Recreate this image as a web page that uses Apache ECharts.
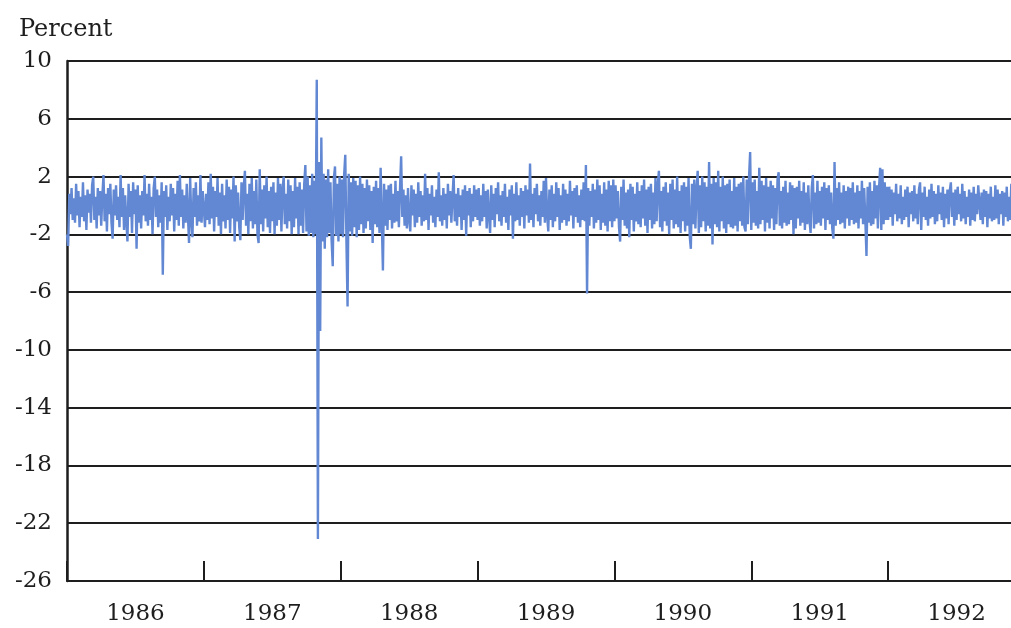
<!DOCTYPE html>
<html>
<head>
<meta charset="utf-8">
<script src="https://cdn.jsdelivr.net/npm/echarts@6/dist/echarts.min.js"></script>
<style>
  html, body { margin: 0; padding: 0; background: #ffffff; overflow: hidden; }
  /* the plot runs past the right edge of the window, as in the scan */
  #chart { width: 1025px; height: 628px; }
</style>
</head>
<body>
<div id="chart"></div>
<script>
  // year labels on the x axis
  var years = ['1986', '1987', '1988', '1989', '1990', '1991', '1992']

  // daily percent changes, one list per year
  var r1986 = [-2.0, -2.8, 0.8, -0.6, 1.2, -1.0, 0.5, -1.2, 1.5, -0.7,
    1.0, -1.5, 0.6, -0.8, 1.6, -1.1, 0.7, -1.7, 1.1, -0.5,
    0.8, -1.2, 1.4, 2.0, -1.0, 0.6, -1.6, 1.2, -0.7, 1.0,
    -1.4, 0.7, 2.1, -1.1, 0.8, -1.8, 1.2, -0.6, 1.5, -1.2,
    -2.3, 1.1, -0.7, 1.4, -1.0, 0.6, -1.5, 2.1, -0.8, 1.2,
    -1.7, 0.7, -1.1, -2.5, 1.5, -0.8, 1.0, -1.9, 1.6, -0.6,
    1.1, -3.0, 1.4, -1.2, 0.7, -1.6, 1.0, -0.7, 2.1, -1.1,
    0.8, -1.4, 1.5, -1.0, 0.6, -2.0, 1.2, 2.0, -0.8, 1.1,
    -1.5, 0.7, -1.2, 1.6, -4.8, 1.0, -0.8, 1.4, -1.7, 0.6,
    -1.1, 1.5, -0.7, 1.2, -1.8, 0.8, -1.0, 1.7, -1.4, 2.1,
    -0.8, 1.1, -1.6, 0.7, -1.2, 1.5, -0.6, -2.6, 1.9, -1.0,
    -2.2, 1.2, -0.8, 1.6, -1.4, 0.7, -1.1, 2.1, -1.2, 1.0]
  var r1987 = [1.1, -1.5, 0.8, -1.0, 1.6, -1.3, 2.2, -0.9, 1.3, -1.8,
    1.0, -0.8, 1.9, -1.4, 0.9, -2.0, 1.5, -1.1, 0.7, -1.6,
    1.8, -1.0, 1.3, -1.9, 1.1, -0.9, 2.0, -2.5, 1.4, -1.1,
    0.9, -1.5, -2.4, 1.6, -1.0, 1.3, 2.4, -1.4, 0.8, -2.0,
    1.5, -1.1, 1.9, -1.6, 1.0, -1.3, 1.8, -2.0, -2.6, 2.5,
    -1.3, 1.1, -1.8, 1.4, -0.9, 2.0, -1.5, 1.0, -1.9, 1.3,
    -1.1, 1.6, -2.0, 0.9, -1.4, 1.9, -1.0, 1.5, -1.8, 1.1,
    2.0, -1.3, 0.8, -1.6, 1.8, -1.1, 1.4, -2.0, 1.0, -1.5,
    1.9, -0.9, 1.3, -2.0, 1.6, -1.4, 1.1, -1.9, 1.5, 2.8,
    -1.8, 2.0, -2.1, 1.4, -1.9, 2.2, -2.2, 1.7, -2.0, 8.7,
    -23.1, 3.0, -8.7, 4.7, -2.5, 2.2, -3.0, 1.8, -2.2, 2.5,
    -1.9, 1.6, -2.4, -4.2, 1.9, 2.7, -2.1, 1.5, -2.5, 2.0]
  var r1988 = [-2.0, 1.8, -2.2, 2.1, 3.5, -2.4, -7.0, 2.2, -1.8, 1.6,
    -2.1, 1.9, -1.5, 1.7, -2.2, 1.4, -1.7, 2.0, -1.3, 1.5,
    -1.9, 1.2, -1.6, 1.8, -1.1, 1.4, -1.7, 1.0, -2.6, 1.3,
    -1.3, 1.7, -1.5, 1.2, -1.9, 2.6, -1.0, -4.5, 1.5, -1.4,
    1.1, -1.7, 1.4, -1.0, 1.5, -1.6, 0.8, -1.2, 1.7, -1.1,
    1.0, -1.5, 1.2, 3.4, -0.8, 1.1, -1.4, 0.7, -1.6, 1.2,
    -1.0, -1.8, 1.4, -0.7, 1.1, -1.5, 0.8, -1.2, 1.6, -0.8,
    1.0, -1.4, 0.7, -1.1, 2.2, -1.0, 1.2, -1.7, 0.8, -0.7,
    1.4, -1.2, 0.6, -1.5, 1.1, -0.8, 2.3, -1.1, 0.7, -1.4,
    1.2, -1.0, 0.8, -1.6, 1.5, -0.7, 1.0, -1.2, 0.6, 2.1,
    -1.1, 0.8, -1.4, 1.2, -0.8, 0.7, -1.7, 1.1, -1.0, 1.4,
    -2.1, 1.0, -0.7, 1.2, -1.5, 0.8, -1.1, 1.4, -0.8, 1.1]
  var r1989 = [-1.0, 1.2, -1.4, 0.7, -1.1, 1.5, -0.8, 1.0, -1.6, 1.1,
    -0.7, -1.9, 1.4, -1.0, 0.8, -1.5, 1.2, -0.6, 1.6, -1.1,
    0.7, -1.4, 1.0, -0.8, 1.5, -1.2, 0.6, -1.7, 1.1, -0.7,
    1.4, -2.3, 0.8, -1.1, 1.6, -1.0, 0.7, -1.4, 1.2, -0.8,
    1.0, -1.6, 1.4, -0.7, 1.1, -1.2, 2.9, -1.0, 0.8, -1.5,
    1.2, -0.6, 1.5, -1.1, 0.7, -1.4, 1.0, -0.8, 1.7, -1.2,
    1.9, -0.7, -1.8, 1.1, -1.0, 1.4, -1.5, 0.8, -1.1, 1.6,
    -0.8, 1.2, -1.7, 0.7, -1.2, 1.5, -1.0, 1.1, -1.4, 0.8,
    -1.1, 1.7, -0.7, 1.0, -1.6, 1.2, -0.8, 1.4, -1.2, 0.7,
    -1.5, 1.1, -1.0, 1.6, -1.1, 2.8, -6.1, 1.2, -1.4, 1.0,
    -0.8, 1.5, -1.6, 1.1, -1.2, 1.8, -1.0, 1.4, -1.7, 0.8,
    -1.2, 1.6, -1.4, 1.1, -1.8, 1.7, -1.1, 1.4, -1.5, 1.8]
  var r1990 = [-1.1, 1.4, -0.9, 1.0, -1.5, -2.5, 1.3, -1.0, 1.8, -1.4,
    0.9, -1.6, 1.1, -2.2, 1.5, -1.0, 1.3, -1.8, 0.8, -1.1,
    1.6, -1.3, 1.0, -1.5, 1.4, -0.9, 1.8, -1.4, 1.1, -1.9,
    1.3, -1.0, 1.5, -1.6, 0.9, -1.3, 1.9, -1.1, 1.4, 2.4,
    -1.5, 1.0, -1.8, 1.3, -1.1, 1.6, -1.4, 0.9, -2.0, 1.5,
    -1.0, 1.8, -1.6, 1.1, -1.3, 2.0, -1.5, 1.0, -1.9, 1.4,
    -1.1, 1.6, -1.8, 1.3, -1.4, 1.9, -2.1, -3.0, 1.5, -1.3,
    1.8, -1.6, 1.1, 2.4, -1.9, 1.4, -1.5, 2.0, -1.1, 1.6,
    -1.8, 1.3, -1.4, 3.0, -1.6, 1.5, -2.7, 1.9, -1.3, 1.6,
    -1.5, 2.4, -1.8, 1.3, -1.1, 2.0, -1.6, 1.4, -1.9, 1.5,
    -1.3, 1.8, -1.5, 1.0, -1.6, 1.9, -1.4, 1.3, -1.8, 1.5,
    -1.1, 1.6, -1.4, 2.0, -1.5, -1.8, 1.8, -1.3, 1.9, 3.7]
  var r1991 = [-1.7, 1.6, -1.2, 1.8, -1.4, 1.0, -1.6, 2.6, -1.3, 1.7,
    -1.0, 1.4, -1.8, 1.9, -1.2, 1.3, -1.6, 1.7, -0.9, 1.4,
    -1.7, 1.2, -1.3, 1.8, 2.3, -1.4, 1.0, -1.6, 1.3, -1.2,
    1.7, -1.4, 0.9, -1.3, 1.6, -1.0, 1.4, -2.0, 1.2, -1.6,
    1.3, -0.9, 1.7, -1.4, 1.0, -1.2, 1.6, -1.7, 0.9, -1.3,
    1.4, -1.0, -1.9, 1.2, 2.1, -1.6, 0.9, -1.3, 1.7, -1.2,
    1.0, -1.4, 1.3, -0.9, 1.6, -1.7, 1.2, -1.0, 1.4, -1.3,
    0.9, -1.6, -2.3, 3.0, -1.4, 1.2, -1.0, 1.6, -1.3, 0.9,
    -1.2, 1.4, -1.6, 1.0, -0.9, 1.3, -1.4, 1.2, -1.0, 1.6,
    -1.3, 0.9, -1.2, 1.4, -1.6, 1.0, -0.9, 1.7, -1.3, 1.2,
    -1.0, -3.5, 1.3, -1.2, 1.6, -1.4, 1.0, -1.3, 1.7, -0.9,
    1.4, -1.6, 1.2, 2.6, -1.7, 2.5, -1.3, 1.6, -1.0, 1.3]
  var r1992 = [-1.0, 1.3, -0.8, 1.1, -1.4, 0.9, -0.6, 1.5, -1.1, 0.8,
    -0.9, 1.4, -1.3, 0.6, -1.0, 1.1, -0.8, 1.3, -1.5, 0.9,
    -0.6, 1.0, -1.1, 1.4, -0.9, 0.8, -1.3, 1.1, 1.6, -1.7,
    0.9, -0.8, 1.3, -1.0, 0.6, -1.4, 1.1, -0.9, 1.5, -0.8,
    1.0, -1.3, 0.8, -1.1, 1.4, -0.6, 0.9, -1.0, 1.3, -1.5,
    0.8, -0.9, 1.1, -1.3, 1.0, 1.6, -0.8, 0.9, -1.4, 1.1,
    -1.0, 1.3, -0.6, 0.8, -1.1, 1.5, -0.9, 1.0, -1.3, 0.6,
    -0.8, 1.1, -1.4, 0.9, -1.0, 1.3, -1.1, 0.8, -0.6, 1.4,
    1.5, -1.0, 0.9, -1.3, 1.1, -0.8, 1.0, -1.5, 0.8, -0.9,
    1.3, -1.1, 0.6, -1.0, 1.4, -0.9, 1.1, -1.3, 0.8, -0.6,
    1.0, -1.4, 0.9, -0.8, 1.3, -1.1, 0.6, -1.0, 1.5, -0.9,
    0.8, -1.3, 1.1, -0.6, 1.0, -1.1, 1.4, -0.8, 0.9, -1.0]

  var yearly = [r1986, r1987, r1988, r1989, r1990, r1991, r1992]

  // spread each year's values evenly across that year
  var points = []
  yearly.forEach(function (list, k) {
    list.forEach(function (v, i) {
      points.push([1986 + k + i / list.length, v])
    })
  })

  var font = 'DejaVu Serif'
  var ink = '#1e1e1e'

  var chart = echarts.init(document.getElementById('chart'))
  var option = {
    animation: false,
    backgroundColor: '#ffffff',
    title: {
      text: 'Percent',
      left: 19,
      top: 18,
      padding: 0,
      textStyle: { fontFamily: font, fontSize: 24, fontWeight: 'normal', color: ink }
    },
    grid: { left: 67, top: 61, bottom: 47, right: 0, containLabel: false },
    xAxis: [
      {
        // year labels and the inward ticks between years
        type: 'category',
        data: years,
        boundaryGap: true,
        position: 'bottom',
        axisLine: { show: true, onZero: false, lineStyle: { color: ink, width: 2 } },
        axisTick: { show: true, inside: true, length: 20, interval: 0, lineStyle: { color: ink, width: 2 } },
        axisLabel: { margin: 22, fontFamily: font, fontSize: 23, color: ink },
        splitLine: { show: false },
        z: 5
      },
      {
        // time axis the series is drawn on
        type: 'value',
        min: 1986,
        max: 1993,
        show: false
      }
    ],
    yAxis: {
      type: 'value',
      min: -26,
      max: 10,
      interval: 4,
      axisLine: { show: true, lineStyle: { color: ink, width: 2.5 } },
      axisTick: { show: false },
      axisLabel: { margin: 15, fontFamily: font, fontSize: 23, color: ink },
      splitLine: { show: true, lineStyle: { color: ink, width: 2 } }
    },
    series: [{
      type: 'line',
      xAxisIndex: 1,
      data: points,
      showSymbol: false,
      symbol: 'none',
      lineStyle: { color: '#6288d3', width: 2.4 },
      z: 1
    }]
  }
  chart.setOption(option)
</script>
</body>
</html>
